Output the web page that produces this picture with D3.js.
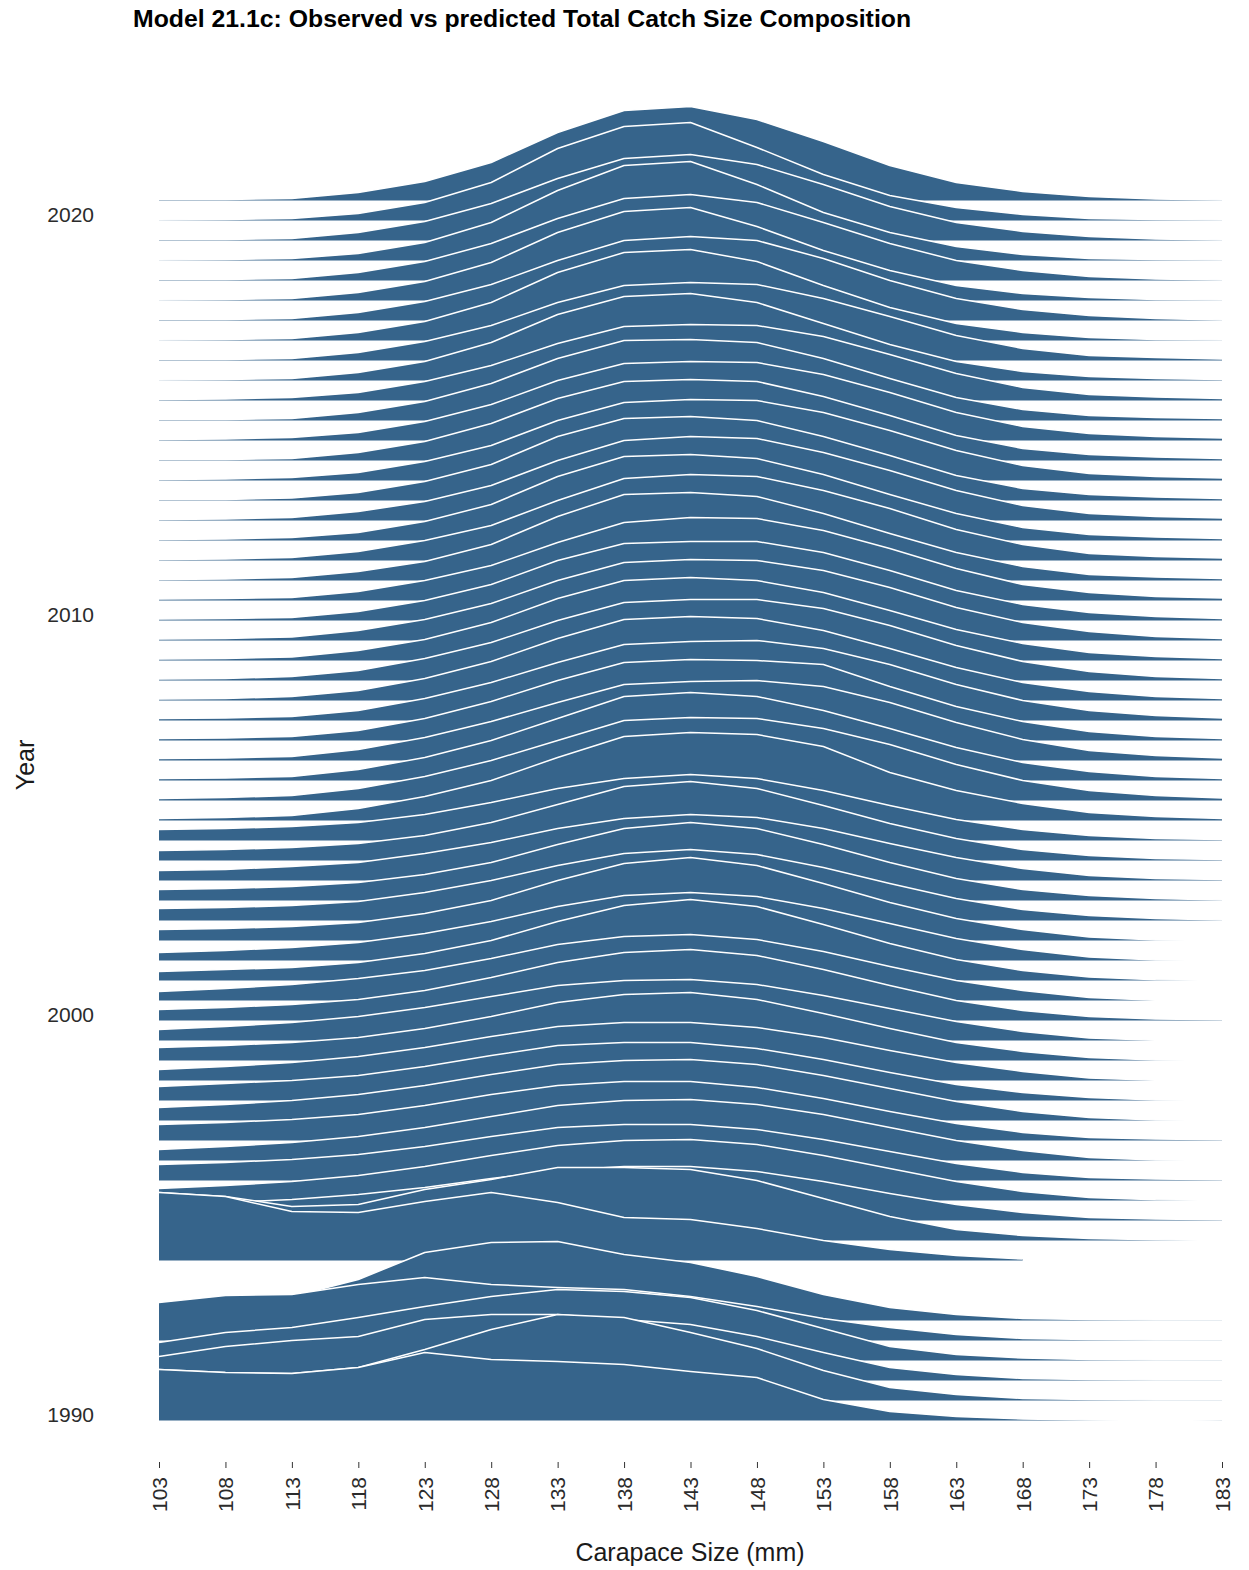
<!DOCTYPE html>
<html>
<head>
<meta charset="utf-8">
<script src="https://cdn.jsdelivr.net/npm/d3@7"></script>
<style>
  body { margin: 0; background: #fff; }
  text { font-family: "Liberation Sans", Arial, Helvetica, sans-serif; }
</style>
</head>
<body>
<div id="chart"></div>
<script>

// size bins (carapace size, mm)
var sizeBins = [103,108,113,118,123,128,133,138,143,148,153,158,163,168,173,178,183];

// ridge positions (half-year steps, 1993 and 1993.5 missing)
var years = [1990,1990.5,1991,1991.5,1992,1992.5,
  1994,1994.5,1995,1995.5,1996,1996.5,1997,1997.5,1998,1998.5,1999,1999.5,
  2000,2000.5,2001,2001.5,2002,2002.5,2003,2003.5,2004,2004.5,2005,2005.5,2006,2006.5,2007,2007.5,2008,2008.5,2009,2009.5,
  2010,2010.5,2011,2011.5,2012,2012.5,2013,2013.5,2014,2014.5,2015,2015.5,2016,2016.5,2017,2017.5,2018,2018.5,2019,2019.5,
  2020,2020.5];

var yearTicks = [1990, 2000, 2010, 2020];

// catch proportion (%) by size bin, one row per ridge
var comp1990s = [
  [10.2,9.6,9.4,10.6,13.6,12.2,11.8,11.2,9.8,8.6,4.2,1.8,0.8,0.3,0.1,0,0.1],
  [6.2,5.6,5.4,6.6,10.2,14.2,17.2,16.6,13.6,10.4,6,2.6,1.2,0.4,0.2,0.1,0.1],
  [4.8,6.8,8,8.8,12.2,13.2,13.2,12.2,11.2,8.8,5.6,2.6,1.2,0.4,0.2,0.1,0.1],
  [3.6,5.6,6.6,8.6,10.8,12.8,14.2,13.8,12.6,10,6.4,2.8,1.2,0.5,0.2,0.1,0.1],
  [7.6,9,9.2,11.2,12.6,11.2,10.6,10.2,8.8,6.8,4.4,2.6,1.2,0.4,0.2,0.1,0.1],
  [3.2,4.4,4.8,8.2,13.6,15.6,15.8,13.2,11.6,8.8,5.2,2.6,1.2,0.4,0.2,0.1,0.1],
  [13.6,12.8,9.8,9.6,11.8,13.6,11.6,8.6,8.2,6.4,4,2.2,1,0.3,null,null,null],
  [9.6,8.8,6.8,7.2,10.2,12.2,14.6,14.6,14.2,12,8.4,4.8,2.2,1,0.4,0.15,0],
  [3.2,3.6,4.2,5.2,6.6,8.4,10,10.8,10.8,9.8,7.8,5.4,3.2,1.6,0.6,0.3,0.15],
  [2.4,3,3.8,5,6.8,9,11,12,12.2,11.2,9,6.4,3.8,1.8,0.6,0.15,0],
  [3.2,3.6,4.2,5.2,6.8,8.8,10.6,11.2,11.2,10.2,8.2,5.8,3.4,1.6,0.6,0.3,0.15],
  [2.2,2.8,3.6,4.8,6.6,8.8,11,12,12.2,11.2,9.2,6.6,4,2,0.6,0.1,0],
  [3.2,3.6,4.2,5.2,7,9.2,11,11.8,11.8,10.6,8.4,5.8,3.4,1.6,0.6,0.3,0.15],
  [2.6,3.2,4,5.2,7,9.2,11.2,12,12.2,11.2,9,6.4,3.8,1.8,0.6,0.1,0],
  [2.8,3.4,4,5,6.8,9,11,11.6,11.6,10.4,8.2,5.6,3.2,1.6,0.6,0.1,0],
  [2.2,2.8,3.6,4.8,6.6,8.8,10.8,11.6,11.6,10.6,8.6,6,3.6,1.8,0.5,0.05,0],
  [2.6,3,3.6,4.6,6.4,8.8,11.6,13.2,13.6,12.2,9.4,6.4,3.6,1.8,0.6,0.12,0],
  [2.2,2.8,3.6,4.8,6.6,8.8,11,12,12.2,11.2,9,6.4,3.8,1.8,0.5,0.05,0]
];

var comp2000s = [
  [2.2,2.6,3.2,4.2,6,8.6,11.6,13.6,14.2,13,10.2,7,4,2,0.8,0.3,0.15],
  [1.8,2.4,3.2,4.4,6,8.4,11.2,12.8,13.2,12.2,9.8,6.8,4,2,0.6,0.05,0],
  [1.8,2.2,2.6,3.6,5.4,8,11.8,15,16.2,14.8,11.2,7.4,4.2,2,0.7,0.15,0],
  [1.6,2,2.6,3.6,5.4,7.8,10.8,13,13.6,12.8,10.4,7.4,4.4,2.2,0.7,0.1,0],
  [2.2,2.4,2.8,3.6,5.4,8,12,15.4,16.6,15,11.4,7.6,4.4,2.2,0.7,0.12,0],
  [2.4,2.6,3,3.8,5.6,8,11,13.4,14.2,13.2,10.6,7.4,4.4,2.2,1,0.4,0.1],
  [2.2,2.4,2.8,3.6,5.2,7.6,11.2,14.4,15.6,14.4,11.2,7.6,4.4,2.2,1,0.4,0.1],
  [2,2.2,2.8,3.6,5.4,7.6,10.4,12.4,13.2,12.6,10.4,7.4,4.6,2.4,1,0.4,0.2],
  [2,2.2,2.6,3.4,5,7.6,11.2,14.8,15.8,14.4,11,7.4,4.4,2.2,1,0.4,0.2],
  [2.2,2.4,2.8,3.6,5.2,7.6,10.4,12.4,13.2,12.4,10,7,4.2,2.2,1,0.4,0.2],
  [0.4,0.6,1,2.4,4.8,8,12.6,16.8,17.6,17.2,14.8,9.6,6,3.4,1.6,0.8,0.4],
  [0.4,0.6,1,2.4,4.8,8,12,16,16.6,16.4,14.4,11.2,7.2,4,2,1,0.5],
  [0.4,0.5,0.8,2.2,4.6,8,12.4,16.8,17.6,16.8,14,10.4,6.6,3.6,1.8,0.8,0.4],
  [0.4,0.5,0.8,2.2,4.6,7.8,11.6,15.2,15.8,16,14.8,11.6,7.6,4.2,2,1,0.5],
  [0.4,0.5,0.8,2,4.4,7.8,12,15.6,16.2,16,15.2,10.8,6.8,3.8,1.8,0.8,0.4],
  [0.4,0.5,0.8,2,4.4,7.6,11.6,15.2,15.8,16,14.4,11.2,7.2,4,2,1,0.5],
  [0.3,0.4,0.8,2,4.4,7.8,12.4,16.2,16.8,16.4,14,10.4,6.6,3.6,1.8,0.8,0.4],
  [0.3,0.4,0.8,2,4.4,7.6,12,15.6,16.2,16.2,14.4,11,7,3.8,1.8,0.8,0.4],
  [0.3,0.4,0.7,2,4.2,7.6,12.4,16,16.6,16,13.6,10,6.2,3.4,1.6,0.8,0.4],
  [0.3,0.4,0.7,2,4.2,7.4,12,15.6,16.2,16,14,10.6,6.6,3.6,1.8,0.8,0.4]
];

var comp2010s = [
  [0.3,0.4,0.6,1.8,4,7.2,12,15.4,15.8,15.8,13.6,10,6,3.2,1.6,0.8,0.4],
  [0.3,0.4,0.6,1.8,4,7,11.6,15.6,16.6,16.4,14,10.4,6.4,3.2,1.6,0.8,0.5],
  [0.2,0.3,0.6,1.8,3.8,7.2,12.8,17.2,17.6,16.8,13.4,9.4,5.6,2.8,1.2,0.7,0.4],
  [0.2,0.3,0.6,1.8,4,7,12,16.4,17.2,16.8,14,10.4,6.2,3.2,1.4,0.8,0.5],
  [0.2,0.3,0.6,1.6,3.8,7.2,12.8,16.8,17.2,16.4,13.2,9.2,5.4,2.6,1.2,0.7,0.4],
  [0.2,0.3,0.6,1.8,3.8,7,12,16,16.8,16.4,13.6,10,6,3,1.4,0.8,0.5],
  [0.2,0.2,0.5,1.6,3.8,7.2,12.8,16.4,16.8,16,12.8,9,5,2.4,1.2,0.7,0.4],
  [0.2,0.3,0.6,1.6,3.8,7,12,15.6,16.2,16,13.6,10,6,3,1.4,0.8,0.5],
  [0.2,0.2,0.4,1.6,3.8,7.4,12.4,15.8,16.2,15.8,12.8,9,5,2.4,1.2,0.7,0.4],
  [0.2,0.3,0.6,1.6,3.8,7.2,12,15.4,15.8,15.6,13.2,9.6,5.6,2.8,1.4,0.8,0.5],
  [0.2,0.2,0.4,1.6,3.8,7.4,12.4,16,16.2,15.6,12.4,8.4,4.6,2.2,1,0.6,0.4],
  [0.2,0.3,0.6,1.6,3.8,7,11.4,14.8,15.2,15,12.8,9.2,5.4,2.6,1.2,0.7,0.4],
  [0.1,0.2,0.4,1.6,3.8,7.6,13.2,16.8,17.4,15.6,11.4,7.2,3.8,1.8,0.8,0.4,0.2],
  [0.2,0.2,0.4,1.6,3.8,7,11.6,15,15.6,15.2,12.4,8.8,5,2.4,1,0.6,0.3],
  [0.1,0.2,0.4,1.6,3.8,7.6,13.6,17.6,18.2,15.8,11,6.6,3.4,1.6,0.6,0.2,0.1],
  [0.2,0.2,0.4,1.6,3.8,7.2,12,16,16.8,16,12.4,8,4.4,2.2,1,0.4,0.1],
  [0.1,0.2,0.4,1.6,3.8,7.6,13.6,17.8,18.6,14.8,10,6,3,1.4,0.6,0.2,0.1],
  [0.2,0.2,0.4,1.6,3.8,7.4,12.4,16.4,17.2,15.6,11.6,7.4,4,2,0.8,0.3,0.1],
  [0.1,0.2,0.4,1.4,3.6,7.6,14,19,19.8,15.2,9.6,5.6,2.8,1.2,0.4,0.2,0.1],
  [0.2,0.2,0.4,1.6,3.8,7.4,12.4,16.4,17.2,15.2,11.2,6.8,3.6,1.8,0.8,0.3,0.1]
];

var comp2020s = [
  [0.1,0.2,0.4,1.4,3.6,7.6,14.4,18.8,19.6,14.6,9.2,5,2.6,1.2,0.4,0.2,0.1],
  [0.2,0.2,0.4,1.6,3.8,7.6,13.6,18,18.8,16.2,11.8,7,3.6,1.8,0.8,0.3,0.1]
];

var comp = comp1990s.concat(comp2000s, comp2010s, comp2020s);

var ridges = years.map(function(yr, i) {
    return {
        year: yr,
        pts: sizeBins.map(function(s, j) { return { size: s, v: comp[i][j] }; })
    };
});

var width = 1249, height = 1570;
var fillColor = "#36648b";

var svg = d3.select("#chart").append("svg")
    .attr("width", width)
    .attr("height", height);

svg.append("rect")
    .attr("width", width)
    .attr("height", height)
    .attr("fill", "#fff");

var x = d3.scaleLinear().domain([103, 183]).range([159, 1222]);
var y = d3.scaleLinear().domain([1990, 2020.5]).range([1420.5, 200.5]);
var h = d3.scaleLinear().domain([0, 1]).range([0, 5]);   // % -> px

// draw later years first so earlier ridges sit on top
var order = ridges.slice().sort(function(a, b) { return d3.descending(a.year, b.year); });

var g = svg.append("g");

order.forEach(function(r) {
    var base = y(r.year);
    var area = d3.area()
        .defined(function(d) { return d.v != null; })
        .x(function(d) { return x(d.size); })
        .y0(base)
        .y1(function(d) { return base - h(d.v); });
    var line = d3.line()
        .defined(function(d) { return d.v != null; })
        .x(function(d) { return x(d.size); })
        .y(function(d) { return base - h(d.v); });

    g.append("path")
        .datum(r.pts)
        .attr("d", area)
        .attr("fill", fillColor);
    g.append("path")
        .datum(r.pts)
        .attr("d", line)
        .attr("fill", "none")
        .attr("stroke", "#fff")
        .attr("stroke-width", 1.5)
        .attr("stroke-linejoin", "round");
});

// y axis (years)
var yAxis = svg.append("g")
    .attr("transform", "translate(94,-6)")
    .call(d3.axisLeft(y).tickValues(yearTicks).tickFormat(d3.format("d")).tickSize(0).tickPadding(0));
yAxis.select(".domain").remove();
yAxis.selectAll("text")
    .attr("fill", "#2b2b2b")
    .style("font-size", "21px")
    .style("font-family", "'Liberation Sans', Arial, sans-serif");

// x axis (size bins)
var xAxis = svg.append("g")
    .attr("transform", "translate(0,1462)")
    .call(d3.axisBottom(x).tickValues(sizeBins).tickSize(6));
xAxis.select(".domain").remove();
xAxis.selectAll(".tick line").attr("stroke", "#333");
xAxis.selectAll("text")
    .attr("fill", "#2b2b2b")
    .attr("y", 0)
    .attr("x", -15)
    .attr("dy", "0.35em")
    .attr("transform", "rotate(-90)")
    .style("text-anchor", "end")
    .style("font-size", "21px")
    .style("font-family", "'Liberation Sans', Arial, sans-serif");

// titles
svg.append("text")
    .attr("x", 133)
    .attr("y", 27)
    .attr("font-weight", "bold")
    .style("font-size", "24.8px")
    .attr("fill", "#000")
    .text("Model 21.1c: Observed vs predicted Total Catch Size Composition");

svg.append("text")
    .attr("x", 690)
    .attr("y", 1561)
    .attr("text-anchor", "middle")
    .style("font-size", "25px")
    .attr("fill", "#1a1a1a")
    .text("Carapace Size (mm)");

svg.append("text")
    .attr("transform", "translate(34,765) rotate(-90)")
    .attr("text-anchor", "middle")
    .style("font-size", "25px")
    .attr("fill", "#1a1a1a")
    .text("Year");

</script>
</body>
</html>
